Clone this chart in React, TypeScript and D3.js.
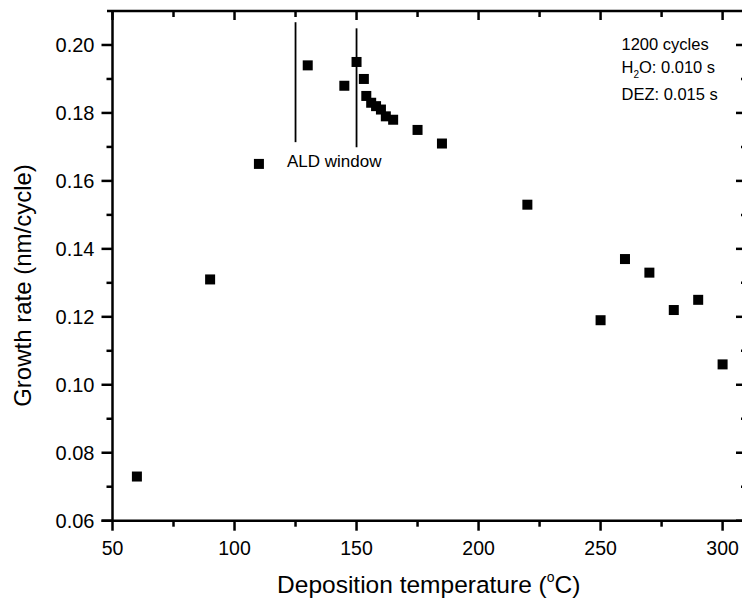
import React from "react";
import * as d3 from "d3";

const temperatures = [60, 90, 110, 130, 145, 150, 153, 154, 156, 158, 160, 162, 165, 175, 185, 220, 250, 260, 270, 280, 290, 300];
const growthRates = [0.073, 0.131, 0.165, 0.194, 0.188, 0.195, 0.190, 0.185, 0.183, 0.182, 0.181, 0.179, 0.178, 0.175, 0.171, 0.153, 0.119, 0.137, 0.133, 0.122, 0.125, 0.106];
const xTickValues = [50, 100, 150, 200, 250, 300];
const xMinorValues = [75, 125, 175, 225, 275];
const yTickValues = [0.06, 0.08, 0.10, 0.12, 0.14, 0.16, 0.18, 0.20];
const yMinorValues = [0.07, 0.09, 0.11, 0.13, 0.15, 0.17, 0.19];
const windowLines = [
  { t: 125, y0: 0.2067, y1: 0.1714 },
  { t: 150, y0: 0.2049, y1: 0.1699 },
];
const legendLines = ["1200 cycles", "H2O: 0.010 s", "DEZ: 0.015 s"];

const W = 742;
const H = 599;
const L = 112.5;
const R = 747;
const T = 11;
const B = 520.7;
const FONT = "'Liberation Sans', Arial, Helvetica, sans-serif";

export default function App() {
  const x = d3.scaleLinear().domain([50, 310]).range([L, R]);
  const y = d3.scaleLinear().domain([0.06, 0.21]).range([B, T]);
  const sq = 10;
  const sw = 2.5;

  return (
    <svg
      width={W}
      height={H}
      style={{ position: "absolute", left: 0, top: 0, background: "#fff" }}
      fontFamily={FONT}
    >
      <rect x={0} y={0} width={W} height={H} fill="#fff" />
      {/* frame */}
      <line x1={L} x2={L} y1={T} y2={B} stroke="#000" strokeWidth={sw} />
      <line x1={L - 11} x2={R} y1={B} y2={B} stroke="#000" strokeWidth={sw} />
      <line x1={107} x2={R} y1={T} y2={T} stroke="#000" strokeWidth={sw} />
      <line x1={R} x2={R} y1={T} y2={B} stroke="#000" strokeWidth={sw} />

      {/* y ticks left (outward) and right (inward) */}
      {yTickValues.map((v) => (
        <g key={"yt" + v}>
          <line x1={L - 11} x2={L} y1={y(v)} y2={y(v)} stroke="#000" strokeWidth={sw} />
          <line x1={R - 11} x2={R} y1={y(v)} y2={y(v)} stroke="#000" strokeWidth={sw} />
          <text x={94.5} y={y(v)} dy="0.36em" textAnchor="end" fontSize={20}>
            {v.toFixed(2)}
          </text>
        </g>
      ))}
      {yMinorValues.map((v) => (
        <g key={"ym" + v}>
          <line x1={L - 6} x2={L} y1={y(v)} y2={y(v)} stroke="#000" strokeWidth={sw} />
          <line x1={R - 6} x2={R} y1={y(v)} y2={y(v)} stroke="#000" strokeWidth={sw} />
        </g>
      ))}

      {/* x ticks bottom (outward) and top (inward) */}
      {xTickValues.map((v) => (
        <g key={"xt" + v}>
          <line x1={x(v)} x2={x(v)} y1={B} y2={B + 10} stroke="#000" strokeWidth={sw} />
          <line x1={x(v)} x2={x(v)} y1={T} y2={T + 9} stroke="#000" strokeWidth={sw} />
          <text x={x(v)} y={555} textAnchor="middle" fontSize={19.5}>
            {v}
          </text>
        </g>
      ))}
      {xMinorValues.map((v) => (
        <g key={"xm" + v}>
          <line x1={x(v)} x2={x(v)} y1={B} y2={B + 6} stroke="#000" strokeWidth={sw} />
          <line x1={x(v)} x2={x(v)} y1={T} y2={T + 6} stroke="#000" strokeWidth={sw} />
        </g>
      ))}

      {/* ALD window lines */}
      {windowLines.map((w) => (
        <line key={"w" + w.t} x1={x(w.t)} x2={x(w.t)} y1={y(w.y0)} y2={y(w.y1)} stroke="#000" strokeWidth={1.8} />
      ))}
      <text x={287} y={166.5} fontSize={17}>ALD window</text>

      {/* data */}
      {temperatures.map((t, i) => (
        <rect
          key={"p" + i}
          x={x(t) - sq / 2}
          y={y(growthRates[i]) - sq / 2}
          width={sq}
          height={sq}
          fill="#000"
        />
      ))}

      {/* annotation */}
      <text x={621.5} y={50} fontSize={16.5}>{legendLines[0]}</text>
      <text x={621.5} y={73} fontSize={16.5}>
        H<tspan fontSize={10} dy={5}>2</tspan>
        <tspan dy={-5}>{legendLines[1].slice(2)}</tspan>
      </text>
      <text x={621.5} y={100} fontSize={16.5}>{legendLines[2]}</text>

      {/* axis titles */}
      <text x={(L + R) / 2 - 1} y={593} textAnchor="middle" fontSize={24.5}>
        Deposition temperature (<tspan fontSize={14} dy={-11}>o</tspan>
        <tspan dy={11}>C)</tspan>
      </text>
      <text
        transform={`translate(31,285.5) rotate(-90)`}
        textAnchor="middle"
        fontSize={24}
      >
        Growth rate (nm/cycle)
      </text>
    </svg>
  );
}
